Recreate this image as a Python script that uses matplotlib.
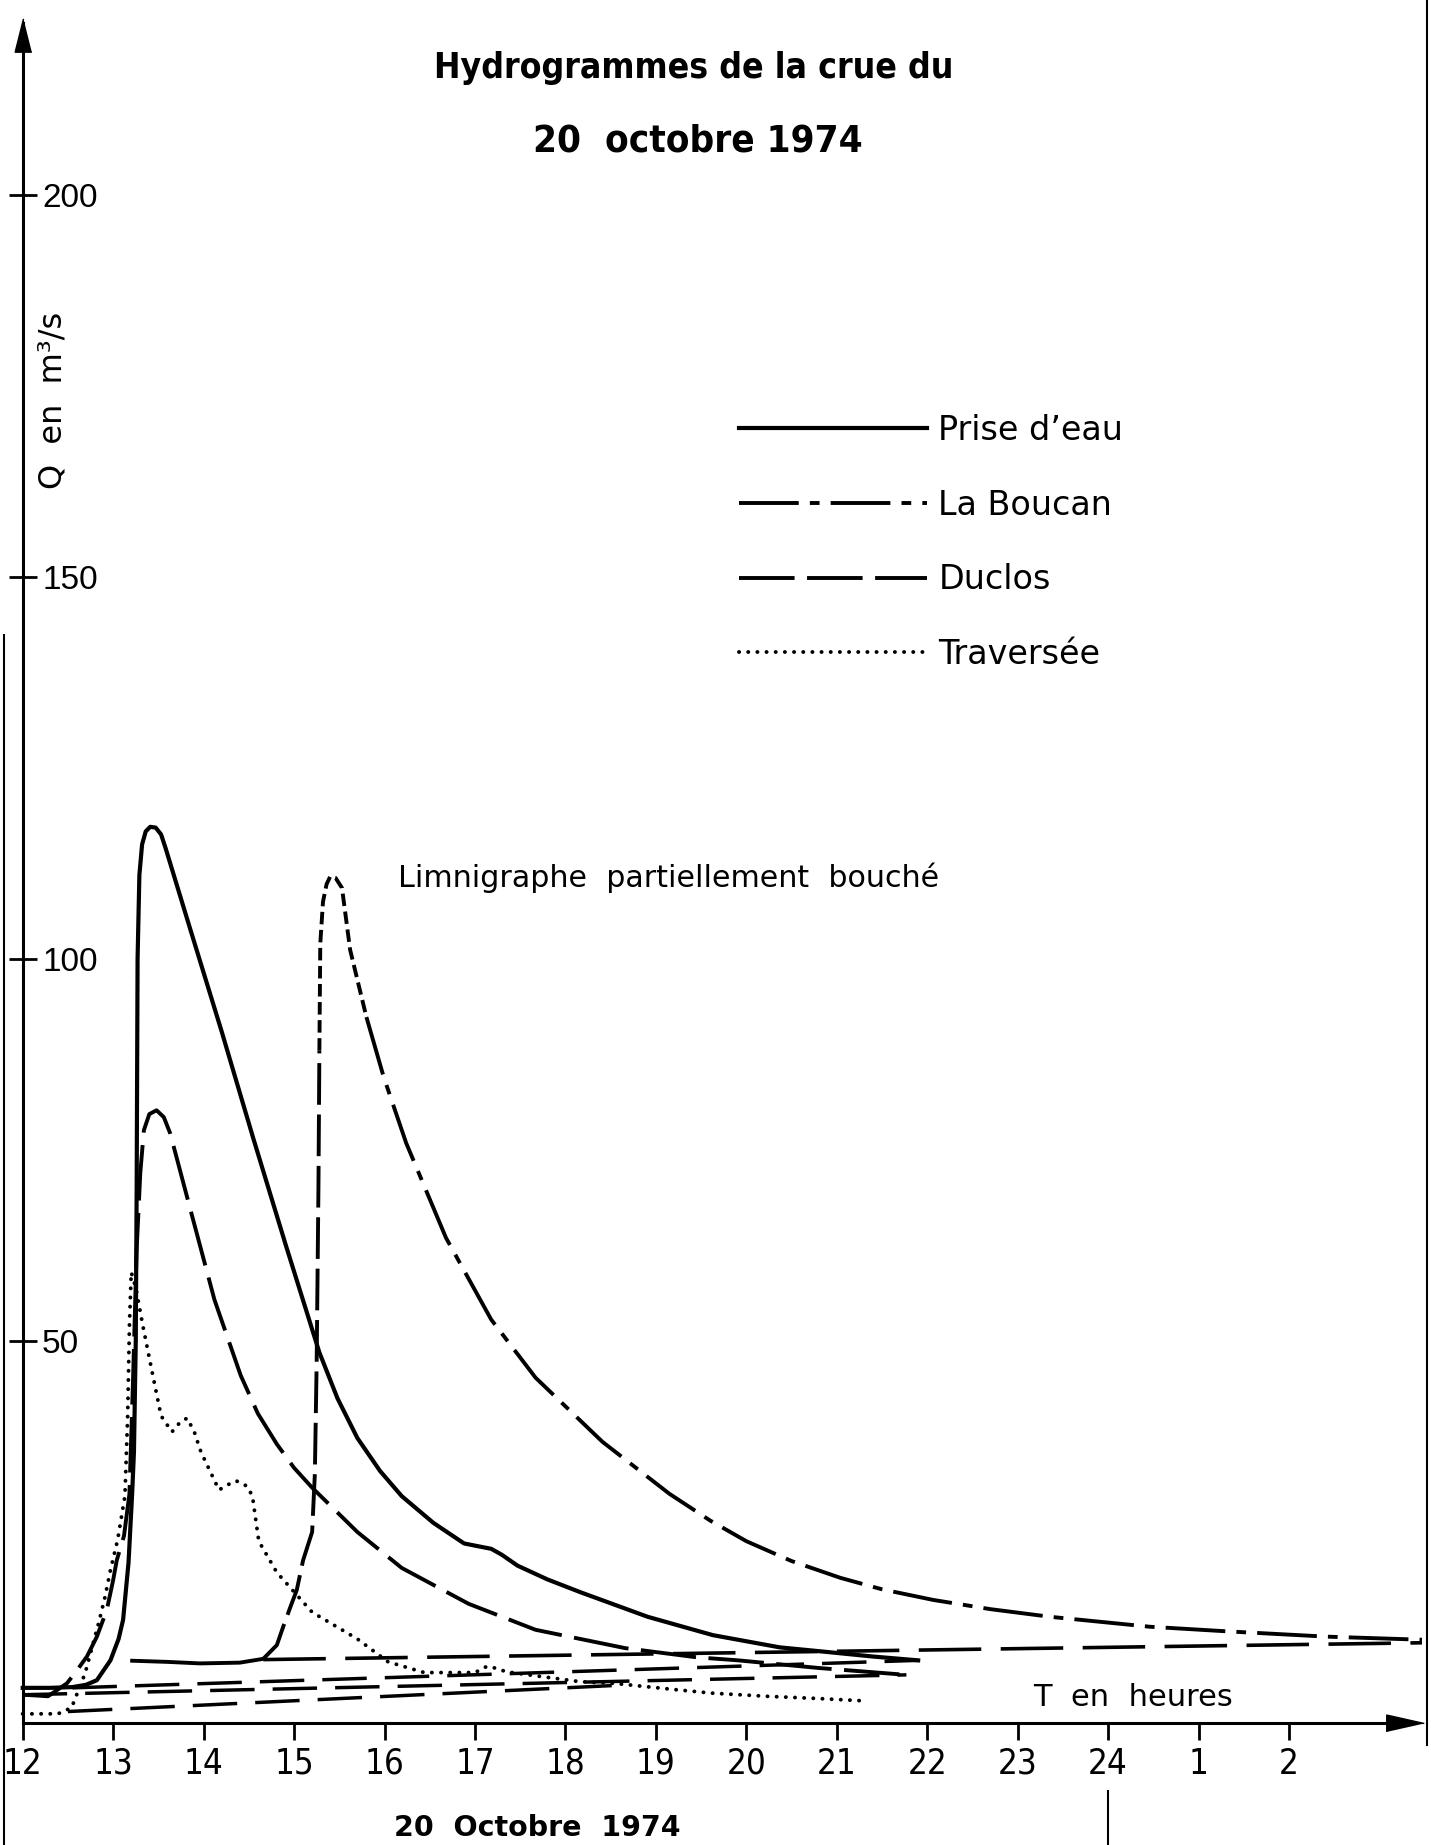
import numpy as np
import matplotlib
matplotlib.use("Agg")
import matplotlib.pyplot as plt
from matplotlib.lines import Line2D
from matplotlib import font_manager as fm

plt.rcParams['lines.scale_dashes'] = False

# hours counted from 0h on 20 Oct 1974 (25, 26 = 1h, 2h next day), Q in m3/s
prise_h = [12.0, 12.3, 12.55, 12.7, 12.82, 12.97, 13.06, 13.11, 13.17, 13.21, 13.23,
           13.25, 13.26, 13.27, 13.29, 13.32, 13.36, 13.41, 13.47, 13.53, 13.58, 13.85,
           14.2, 14.55, 14.91, 15.28, 15.48, 15.7, 15.95, 16.19, 16.54, 16.88, 17.05,
           17.18, 17.3, 17.47, 17.8, 18.17, 18.91, 19.63, 20.37, 20.89, 21.4, 21.9]
prise_q = [4.6, 4.6, 4.7, 5.0, 5.6, 8.2, 11.0, 13.5, 21.0, 30.0, 35.5,
           50.0, 70.0, 100.0, 111.0, 115.0, 116.7, 117.3, 117.2, 116.3, 114.5, 104.0,
           90.5, 76.5, 62.5, 48.5, 42.5, 37.3, 33.0, 29.7, 26.2, 23.5, 23.1,
           22.8, 22.0, 20.6, 18.8, 17.1, 13.9, 11.5, 9.9, 9.3, 8.7, 8.2]

bouc_h = [13.21, 13.6, 13.96, 14.4, 14.66, 14.81, 14.88, 14.96, 15.03, 15.1, 15.2,
          15.23, 15.25, 15.27, 15.28, 15.29, 15.32, 15.36, 15.4, 15.46, 15.53, 15.62,
          15.8, 15.99, 16.24, 16.68, 17.18, 17.67, 18.41, 19.15, 19.6, 20.0, 20.5,
          21.04, 21.5, 22.07, 22.7, 23.36, 24.46, 25.31, 26.42, 27.47]
bouc_q = [8.15, 8.0, 7.8, 7.9, 8.4, 10.2, 12.6, 15.2, 17.4, 21.3, 25.0,
          32.6, 47.2, 70.5, 88.0, 102.0, 107.5, 109.8, 110.8, 110.6, 109.3, 101.2,
          92.4, 84.6, 75.9, 63.5, 52.8, 45.2, 36.8, 30.0, 26.5, 23.8, 21.2,
          19.0, 17.5, 16.1, 14.9, 13.9, 12.6, 12.0, 11.3, 10.9]

duclos_h = [12.0, 12.15, 12.28, 12.49, 12.6, 12.71, 12.82, 12.93, 13.0, 13.04, 13.12,
            13.18, 13.22, 13.26, 13.3, 13.34, 13.40, 13.48, 13.56, 13.63, 13.87, 14.12,
            14.41, 14.6, 14.81, 15.0, 15.2, 15.7, 16.19, 16.93, 17.67, 18.66, 19.45,
            19.91, 20.8, 21.77]
duclos_q = [3.7, 3.6, 3.5, 5.2, 6.9, 8.7, 11.3, 14.8, 18.7, 21.3, 24.5,
            30.0, 45.0, 62.0, 72.0, 77.6, 79.7, 80.2, 79.3, 77.2, 66.5, 55.4,
            45.5, 40.5, 36.5, 33.4, 30.8, 25.0, 20.3, 15.6, 12.2, 9.8, 8.6,
            8.2, 7.2, 6.3]

trav_h = [12.0, 12.39, 12.54, 12.61, 12.69, 12.76, 12.84, 12.91, 12.97, 13.05, 13.13,
          13.16, 13.18, 13.2, 13.25, 13.33, 13.43, 13.53, 13.65, 13.75, 13.82, 13.9,
          13.97, 14.17, 14.27, 14.36, 14.48, 14.54, 14.61, 14.81, 15.2, 15.7, 16.04,
          16.44, 16.8, 17.0, 17.13, 17.22, 17.35, 17.72, 18.17, 18.53, 18.9, 19.27,
          19.63, 20.22, 20.8, 21.3]
trav_q = [1.2, 1.2, 2.0, 4.1, 6.5, 9.6, 13.1, 16.5, 20.0, 24.0, 29.7,
          40.0, 52.0, 59.0, 57.0, 51.9, 46.0, 40.2, 38.1, 39.5, 39.9, 38.0,
          35.5, 30.5, 31.2, 31.7, 31.0, 29.7, 23.8, 19.7, 14.5, 11.0, 8.0,
          6.6, 6.6, 6.6, 7.4, 7.2, 6.7, 6.1, 5.4, 5.2, 4.75, 4.3,
          3.9, 3.5, 3.2, 2.9]

# straight base-flow lines
prise_base_h, prise_base_q = [12.55, 21.9], [4.6, 8.2]
duclos_base_h, duclos_base_q = [12.0, 21.77], [3.7, 6.3]
trav_base_h, trav_base_q = [12.5, 18.7], [1.5, 5.0]
bouc_base_h, bouc_base_q = [14.66, 27.47], [8.3, 10.5]

hour_ticks = list(range(12, 27))
hour_labels = [str(h if h <= 24 else h - 24) for h in hour_ticks]
q_ticks = [50, 100, 150, 200]


def narrow_font(bold):
    # look for an installed condensed / narrow face, else plain DejaVu Sans
    order = ['liberation', 'dejavu', 'roboto', 'noto', 'open', 'lato']
    found = []
    for f in fm.fontManager.ttflist:
        low = f.fname.lower()
        if ('condensed' in low or 'narrow' in low) and f.style == 'normal' \
                and 'semi' not in low and 'extra' not in low and 'ultra' not in low:
            w = f.weight if isinstance(f.weight, int) else (700 if 'bold' in str(f.weight) else 400)
            if (w >= 600) == bold:
                rank = next((i for i, k in enumerate(order) if k in low), len(order))
                found.append((rank, abs(w - (700 if bold else 400)), f.fname))
    if found:
        return fm.FontProperties(fname=sorted(found)[0][2]), True
    return fm.FontProperties(family='DejaVu Sans', weight='bold' if bold else 'normal'), False


W, H = 1431, 1845
fig = plt.figure(figsize=(W / 100, H / 100), dpi=100)
ax = fig.add_axes([0, 0, 1, 1])
ax.set_xlim(12 - 22.7 / 90.45, 12 + (W - 22.7) / 90.45)
ax.set_ylim(-(H - 1723) / 7.64, 1723 / 7.64)
ax.patch.set_alpha(0)


def fx(px):
    return px / W


def fy(py):
    return 1 - py / H


# axes with arrows
ax.spines[['top', 'right']].set_visible(False)
ax.spines['left'].set_position(('data', 12))
ax.spines['bottom'].set_position(('data', 0))
ax.spines['left'].set_bounds(0, 222.5)
ax.spines['bottom'].set_bounds(12, 27.3)
for s in ('left', 'bottom'):
    ax.spines[s].set_linewidth(2.2)
ax.plot(12, 221.0, marker=[(0, 1), (-0.5, -1), (0.5, -1)], ms=24, color='k', clip_on=False)
ax.plot(27.28, 0, marker=[(1, 0), (-1, 0.45), (-1, -0.45)], ms=27, color='k', clip_on=False)

ax.set_yticks(q_ticks)
ax.tick_params(axis='y', direction='inout', length=20, width=2, pad=-24, labelsize=24)
for t in ax.get_yticklabels():
    t.set_horizontalalignment('left')
    t.set_family(['Liberation Sans', 'DejaVu Sans'])

tick_font, tick_narrow = narrow_font(False)
ax.set_xticks(hour_ticks)
ax.set_xticklabels(hour_labels, fontproperties=tick_font)
ax.tick_params(axis='x', direction='out', length=12, width=2, pad=5,
               labelsize=25 if tick_narrow else 23)

# hydrographs
l_prise, = ax.plot(prise_h, prise_q, color='k', lw=3, solid_joinstyle='round')
dashdot = (0, (43, 8, 7, 8))
ax.plot(bouc_h[:5], bouc_q[:5], color='k', lw=2.8)
ax.plot(bouc_h[4:15], bouc_q[4:15], color='k', lw=2.8, ls=(0, (30, 7)))
ax.plot(bouc_h[14:23], bouc_q[14:23], color='k', lw=2.8, ls=(0, (9, 4)))
l_bouc, = ax.plot(bouc_h[22:], bouc_q[22:], color='k', lw=2.8, ls=dashdot)
l_duclos, = ax.plot(duclos_h, duclos_q, color='k', lw=2.8, ls=(0, (40, 9)))
l_trav, = ax.plot(trav_h, trav_q, color='k', lw=2.8, ls=(0, (0.1, 6.5)),
                  dash_capstyle='round')

base_style = dict(color='k', lw=2.5, ls=(0, (32, 13)))
ax.plot(prise_base_h, prise_base_q, **base_style)
ax.plot(duclos_base_h, duclos_base_q, **base_style)
ax.plot(trav_base_h, trav_base_q, **base_style)
ax.plot(bouc_base_h, bouc_base_q, color='k', lw=2.6, ls=(0, (45, 14)))

ax.legend([l_prise, l_bouc, l_duclos, l_trav],
          ["Prise d’eau", "La Boucan", "Duclos", "Traversée"],
          loc='upper left', bbox_to_anchor=(fx(739), fy(414)),
          bbox_transform=fig.transFigure, frameon=False,
          prop=dict(family='DejaVu Sans', size=24),
          handlelength=5.65, handletextpad=0.33, labelspacing=1.25,
          borderpad=0, borderaxespad=0)

# texts
title_font, title_narrow = narrow_font(True)
t1 = fig.text(fx(694), fy(68), "Hydrogrammes de la crue du", ha='center', va='center',
              fontproperties=title_font, fontsize=34)
t2 = fig.text(fx(698), fy(141), "20  octobre 1974", ha='center', va='center',
              fontproperties=title_font, fontsize=34)
fig.canvas.draw()
renderer = fig.canvas.get_renderer()
for t, target in ((t1, 520), (t2, 330)):
    w = t.get_window_extent(renderer).width
    scale = target / w if title_narrow else max(target / w, 0.8)
    t.set_fontsize(t.get_fontsize() * scale)

fig.text(fx(53), fy(400), "Q  en  m³/s", rotation=90, ha='center', va='center',
         fontsize=23, family='DejaVu Sans')
fig.text(fx(398), fy(878), "Limnigraphe  partiellement  bouché", ha='left', va='center',
         fontsize=21.7, family='DejaVu Sans')
fig.text(fx(1033), fy(1697), "T  en  heures", ha='left', va='center',
         fontsize=22, family='DejaVu Sans')
fig.text(fx(537), fy(1828), "20  Octobre  1974", ha='center', va='center',
         fontsize=20.5, fontweight='bold', family='DejaVu Sans')

# page edges and day separator
fig.add_artist(Line2D([fx(4), fx(4)], [0, fy(635)], color='k', lw=1.5))
fig.add_artist(Line2D([fx(1427), fx(1427)], [fy(1745), 1], color='k', lw=1.5))
ax.plot([24, 24], [-(1791 - 1723) / 7.64, -(H - 1723) / 7.64], color='k', lw=1.5,
        clip_on=False)

fig.savefig("out.png", dpi=100)
